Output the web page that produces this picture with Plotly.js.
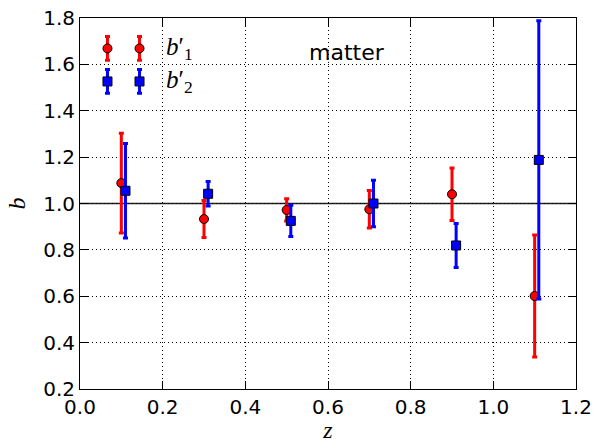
<!DOCTYPE html>
<html>
<head>
<meta charset="utf-8">
<script src="https://cdn.plot.ly/plotly-3.0.1.min.js"></script>
<style>
html,body{margin:0;padding:0;background:#fff;}
#chart{width:603px;height:443px;}
</style>
</head>
<body>
<div id="chart"></div>
<script>
// ---- data ----
const z1 = [0.10, 0.30, 0.50, 0.70, 0.90, 1.10];
const b1 = [1.088, 0.933, 0.972, 0.975, 1.040, 0.601];
const b1err = [0.215, 0.080, 0.048, 0.081, 0.113, 0.263];

const z2 = [0.11, 0.31, 0.51, 0.71, 0.91, 1.11];
const b2 = [1.055, 1.042, 0.925, 1.000, 0.819, 1.188];
const b2err = [0.204, 0.053, 0.067, 0.100, 0.095, 0.600];

const xTicks = [0.0, 0.2, 0.4, 0.6, 0.8, 1.0, 1.2];
const yTicks = [0.2, 0.4, 0.6, 0.8, 1.0, 1.2, 1.4, 1.6, 1.8];
const refLine = 1.0;
const label1 = "<i>b</i>′<sub>1</sub>";
const label2 = "<i>b</i>′<sub>2</sub>";
const annotText = "matter";

// legend glyph layout (in overlay axis fraction)
const legX = [0.0554, 0.12];
const legY1 = 0.918, legY2 = 0.829;
const legErr = 0.032;

const RED = '#ff0000', BLUE = '#0000ff';

const traces = [
  {
    x: z1, y: b1, type: 'scatter', mode: 'markers', name: 'b1',
    marker: {symbol: 'circle', size: 9, color: RED, line: {color: '#000', width: 1}},
    error_y: {type: 'data', array: b1err, visible: true, color: RED, thickness: 3, width: 2.5},
    showlegend: false
  },
  {
    x: z2, y: b2, type: 'scatter', mode: 'markers', name: 'b2',
    marker: {symbol: 'square', size: 9, color: BLUE, line: {color: '#000', width: 1}},
    error_y: {type: 'data', array: b2err, visible: true, color: BLUE, thickness: 3, width: 2.5},
    showlegend: false
  },
  {
    x: legX, y: legX.map(() => legY1), xaxis: 'x2', yaxis: 'y2', type: 'scatter', mode: 'markers',
    marker: {symbol: 'circle', size: 9, color: RED, line: {color: '#000', width: 1}},
    error_y: {type: 'constant', value: legErr, visible: true, color: RED, thickness: 3, width: 2.5},
    showlegend: false, hoverinfo: 'skip'
  },
  {
    x: legX, y: legX.map(() => legY2), xaxis: 'x2', yaxis: 'y2', type: 'scatter', mode: 'markers',
    marker: {symbol: 'square', size: 9, color: BLUE, line: {color: '#000', width: 1}},
    error_y: {type: 'constant', value: legErr, visible: true, color: BLUE, thickness: 3, width: 2.5},
    showlegend: false, hoverinfo: 'skip'
  }
];

const tickFont = {family: 'DejaVu Sans', size: 20, color: '#000'};

const axisCommon = {
  showline: true, linecolor: '#000', linewidth: 1, mirror: 'ticks',
  ticks: 'inside', ticklen: 8, tickwidth: 1, tickcolor: '#000',
  showgrid: true, gridcolor: '#000', gridwidth: 1, griddash: '1px,3px',
  zeroline: false, tickfont: tickFont
};

const layout = {
  width: 603, height: 443,
  margin: {l: 80, r: 27, t: 18, b: 54, pad: 0},
  paper_bgcolor: '#fff', plot_bgcolor: '#fff',
  showlegend: false,
  xaxis: Object.assign({}, axisCommon, {
    range: [0, 1.2], tickvals: xTicks, ticktext: xTicks.map(v => v.toFixed(1)),
    title: {text: '<i>z</i>', font: {family: 'Liberation Serif', size: 24, color: '#000'}, standoff: 8}
  }),
  yaxis: Object.assign({}, axisCommon, {
    range: [0.2, 1.8], tickvals: yTicks, ticktext: yTicks.map(v => v.toFixed(1)),
    title: {text: '<i>b</i>', font: {family: 'Liberation Serif', size: 24, color: '#000'}, standoff: 10}
  }),
  xaxis2: {overlaying: 'x', anchor: 'y2', range: [0, 1], visible: false, fixedrange: true},
  yaxis2: {overlaying: 'y', anchor: 'x2', range: [0, 1], visible: false, fixedrange: true},
  shapes: [
    {type: 'line', xref: 'paper', x0: 0, x1: 1, yref: 'y', y0: refLine, y1: refLine,
     line: {color: '#222', width: 1.5}, layer: 'below'}
  ],
  annotations: [
    {xref: 'x2', yref: 'y2', x: 0.17, y: legY1, text: label1, showarrow: false, xanchor: 'left', yanchor: 'middle',
     font: {family: 'Liberation Serif', size: 25, color: '#000'}},
    {xref: 'x2', yref: 'y2', x: 0.17, y: legY2, text: label2, showarrow: false, xanchor: 'left', yanchor: 'middle',
     font: {family: 'Liberation Serif', size: 25, color: '#000'}},
    {xref: 'x', yref: 'y', x: 0.645, y: 1.653, text: annotText, showarrow: false, xanchor: 'center', yanchor: 'middle',
     font: {family: 'DejaVu Sans', size: 22, color: '#000'}}
  ]
};

Plotly.newPlot('chart', traces, layout, {staticPlot: true, displayModeBar: false});
</script>
</body>
</html>
